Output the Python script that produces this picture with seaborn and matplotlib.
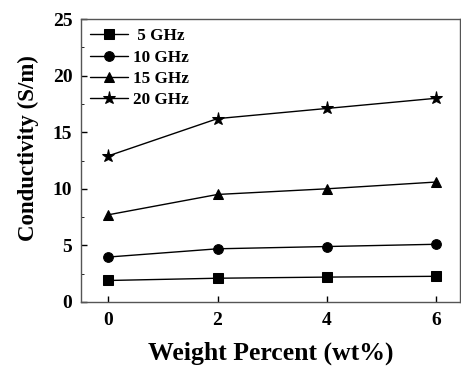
import matplotlib
matplotlib.use("Agg")
import matplotlib.pyplot as plt
import seaborn as sns
import pandas as pd
from matplotlib.ticker import MultipleLocator

weight = [0, 2, 4, 6]
s5 = [1.9, 2.1, 2.2, 2.27]
s10 = [3.97, 4.7, 4.9, 5.1]
s15 = [7.7, 9.5, 10.0, 10.6]
s20 = [12.9, 16.2, 17.1, 18.0]
labels = [" 5 GHz", "10 GHz", "15 GHz", "20 GHz"]
markers = ["s", "o", "^", "*"]

rows = []
for lab, vals in zip(labels, [s5, s10, s15, s20]):
    for w, v in zip(weight, vals):
        rows.append({"Weight": w, "Conductivity": v, "Series": lab})
df = pd.DataFrame(rows)

sns.set_style("ticks")
plt.rcParams['font.family'] = ['Liberation Serif', 'DejaVu Serif']
plt.rcParams['font.weight'] = 'bold'
for k in ['text.color', 'axes.labelcolor', 'xtick.color', 'ytick.color']:
    plt.rcParams[k] = 'black'

fig = plt.figure(figsize=(4.61, 3.67), dpi=100)
ax = fig.add_axes([80.7/461, 1-302/367, (460-80.7)/461, (302-19)/367])

for lab, m in zip(labels, markers):
    sub = df[df["Series"] == lab]
    ms = 9.5 if m == "*" else 7
    sns.lineplot(data=sub, x="Weight", y="Conductivity", ax=ax, color="black",
                 marker=m, markersize=ms, markeredgecolor="black", lw=1.0,
                 label=lab)

ax.set_xlim(-0.5, 6.43)
ax.set_ylim(0, 25)
ax.set_xticks(weight)
ax.set_yticks([0, 5, 10, 15, 20, 25])
ax.yaxis.set_minor_locator(MultipleLocator(2.5))
ax.tick_params(direction="in", labelsize=14, width=1, length=4)
ax.tick_params(axis="y", pad=6)
ax.tick_params(axis="x", pad=7)
ax.tick_params(which="minor", direction="in", length=2.5)
for lbl in ax.get_xticklabels() + ax.get_yticklabels():
    lbl.set_fontweight("bold")
ax.set_xlabel("Weight Percent (wt%)", fontsize=18.5, fontweight="bold", labelpad=9)
ax.set_ylabel("Conductivity (S/m)", fontsize=16.5, fontweight="bold")
ax.yaxis.set_label_coords(-0.11, 0.545)
for sp in ax.spines.values():
    sp.set_linewidth(1.0)
    sp.set_color("#555555")

leg = ax.legend(loc="upper left", frameon=False, prop={"weight": "bold", "size": 12.3},
                handlelength=2.2, handletextpad=0.3, labelspacing=0.3,
                borderaxespad=0.15)
fig.savefig("out.png", dpi=100)
